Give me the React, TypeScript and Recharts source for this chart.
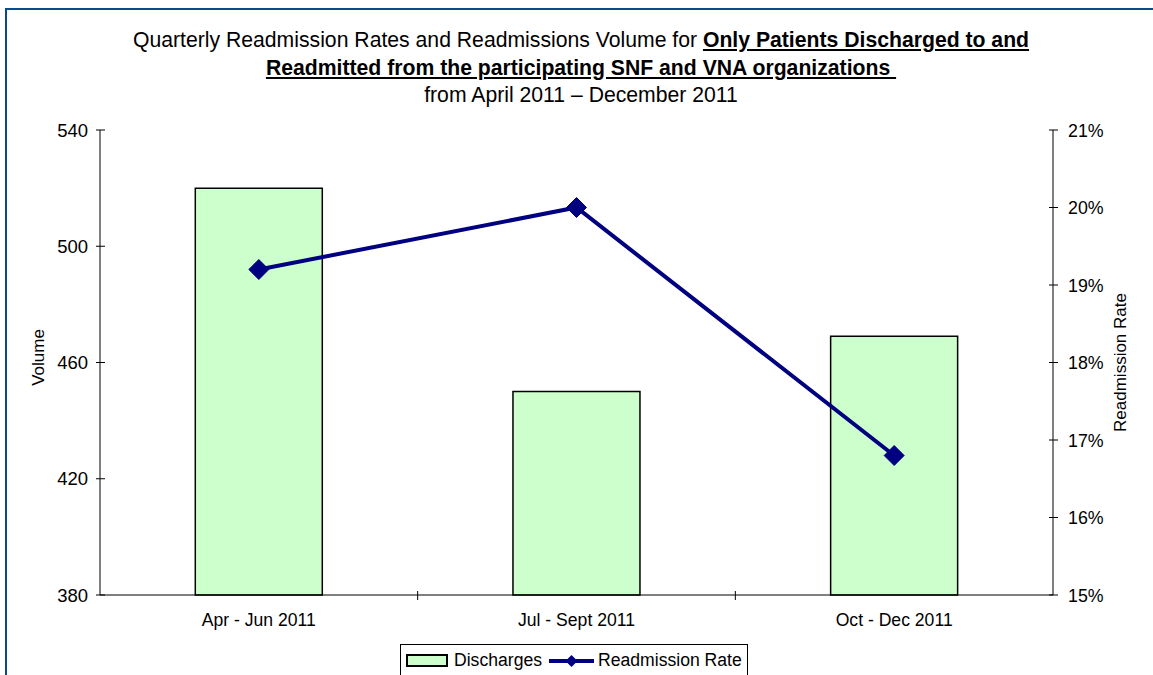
import React from "react"
import {
  ComposedChart,
  Bar,
  Line,
  XAxis,
  YAxis,
  Legend,
} from "recharts"

const quarters = ["Apr - Jun 2011", "Jul - Sept 2011", "Oct - Dec 2011"]
const discharges = [520, 450, 469]
const readmissionRates = [19.2, 20.0, 16.8] // percent
const volumeTicks = [380, 420, 460, 500, 540]
const rateTicks = [15, 16, 17, 18, 19, 20, 21]

const chartData = quarters.map((q, i) => ({
  quarter: q,
  discharges: discharges[i],
  rate: readmissionRates[i],
}))

const FONT = "'Liberation Sans', Arial, sans-serif"
const NAVY = "#000080"
const BAR_FILL = "#CCFFCC"

const LeftTick = (props: any) => {
  const { x, y, payload } = props
  const ax = x + 12
  return (
    <g>
      <line x1={ax - 4} x2={ax + 5} y1={y} y2={y} stroke="#000" />
      <text x={x} y={y} dy={6.5} textAnchor="end" fontSize={18.5} fill="#000" fontFamily={FONT}>
        {payload.value}
      </text>
    </g>
  )
}

const RightTick = (props: any) => {
  const { x, y, payload } = props
  const ax = x - 15
  return (
    <g>
      <line x1={ax - 4} x2={ax + 5} y1={y} y2={y} stroke="#000" />
      <text x={x} y={y} dy={6.5} textAnchor="start" fontSize={17.8} fill="#000" fontFamily={FONT}>
        {`${payload.value}%`}
      </text>
    </g>
  )
}

const BottomTick = (props: any) => {
  const { x, y, payload, index, width, visibleTicksCount } = props
  const ay = y - 18
  const band = width / visibleTicksCount
  return (
    <g>
      {index < visibleTicksCount - 1 && (
        <line x1={x + band / 2} x2={x + band / 2} y1={ay - 4} y2={ay + 5} stroke="#000" />
      )}
      <text x={x} y={y} dy={13} textAnchor="middle" fontSize={17.6} fill="#000" fontFamily={FONT}>
        {payload.value}
      </text>
    </g>
  )
}

const Diamond = (props: any) => {
  const { cx, cy } = props
  if (cx == null || cy == null) return null
  const r = 10
  return (
    <path
      d={`M${cx},${cy - r} L${cx + r},${cy} L${cx},${cy + r} L${cx - r},${cy} Z`}
      fill={NAVY}
      stroke={NAVY}
    />
  )
}

const LegendBox = () => (
  <div
    style={{
      border: "1px solid #000",
      display: "flex",
      alignItems: "center",
      padding: "5px 5px 12px 5px",
      fontSize: 17.6,
      fontFamily: FONT,
      color: "#000",
      background: "#fff",
      whiteSpace: "nowrap",
    }}
  >
    <span
      style={{
        display: "inline-block",
        width: 38,
        height: 9,
        background: BAR_FILL,
        border: "2px solid #000",
        marginRight: 6,
      }}
    />
    <span style={{ marginRight: 7 }}>Discharges</span>
    <svg width={45} height={20} style={{ marginRight: 4 }}>
      <line x1={0} x2={45} y1={10} y2={10} stroke={NAVY} strokeWidth={4} />
      <path d="M22.5,4 L28.5,10 L22.5,16 L16.5,10 Z" fill={NAVY} />
    </svg>
    <span>Readmission Rate</span>
  </div>
)

export default function App() {
  return (
    <div
      style={{
        position: "absolute",
        left: 0,
        top: 0,
        width: 1153,
        height: 675,
        overflow: "hidden",
        background: "#fff",
        fontFamily: FONT,
      }}
    >
      {/* frame */}
      <div
        style={{
          position: "absolute",
          left: 5,
          top: 8,
          width: 1200,
          height: 700,
          borderTop: "2px solid #0b4a8a",
          borderLeft: "2px solid #0b4a8a",
        }}
      />
      {/* title */}
      <div
        style={{
          position: "absolute",
          left: 81,
          width: 1000,
          top: 26,
          textAlign: "center",
          fontSize: 21.2,
          lineHeight: "27.5px",
          color: "#000",
        }}
      >
        <div>
          Quarterly Readmission Rates and Readmissions Volume for{" "}
          <b><u>Only Patients Discharged to and</u></b>
        </div>
        <div>
          <b><u>Readmitted from the participating SNF and VNA organizations&nbsp;</u></b>
        </div>
        <div>from April 2011 – December 2011</div>
      </div>

      <ComposedChart
        width={1153}
        height={675}
        data={chartData}
        margin={{ top: 130, right: 0, bottom: 0, left: 0 }}
        barCategoryGap="30%"
        style={{ position: "absolute", left: 0, top: 0 }}
      >
        <XAxis
          dataKey="quarter"
          height={80}
          axisLine={{ stroke: "#000" }}
          tickLine={false}
          tickSize={0}
          tickMargin={18}
          tick={<BottomTick />}
          interval={0}
        />
        <YAxis
          yAxisId="vol"
          width={100}
          domain={[380, 540]}
          ticks={volumeTicks}
          axisLine={{ stroke: "#000" }}
          tickLine={false}
          tickSize={0}
          tickMargin={12}
          tick={<LeftTick />}
          label={{
            value: "Volume",
            angle: -90,
            position: "center",
            dx: -12,
            dy: -5,
            fontSize: 17,
            fill: "#000",
          }}
        />
        <YAxis
          yAxisId="rate"
          orientation="right"
          width={100}
          domain={[15, 21]}
          ticks={rateTicks}
          axisLine={{ stroke: "#000" }}
          tickLine={false}
          tickSize={0}
          tickMargin={15}
          tick={<RightTick />}
          label={{
            value: "Readmission Rate",
            angle: -90,
            position: "center",
            dx: 17,
            fontSize: 17,
            fill: "#000",
          }}
        />
        <Bar
          yAxisId="vol"
          dataKey="discharges"
          name="Discharges"
          fill={BAR_FILL}
          stroke="#000"
          strokeWidth={1.5}
          isAnimationActive={false}
        />
        <Line
          yAxisId="rate"
          dataKey="rate"
          name="Readmission Rate"
          stroke={NAVY}
          strokeWidth={4}
          dot={<Diamond />}
          activeDot={false}
          isAnimationActive={false}
        />
        <Legend
          layout="horizontal"
          verticalAlign="middle"
          align="center"
          content={<LegendBox />}
          wrapperStyle={{ top: 644, left: 400, width: "auto", height: "auto" }}
        />
      </ComposedChart>
    </div>
  )
}
